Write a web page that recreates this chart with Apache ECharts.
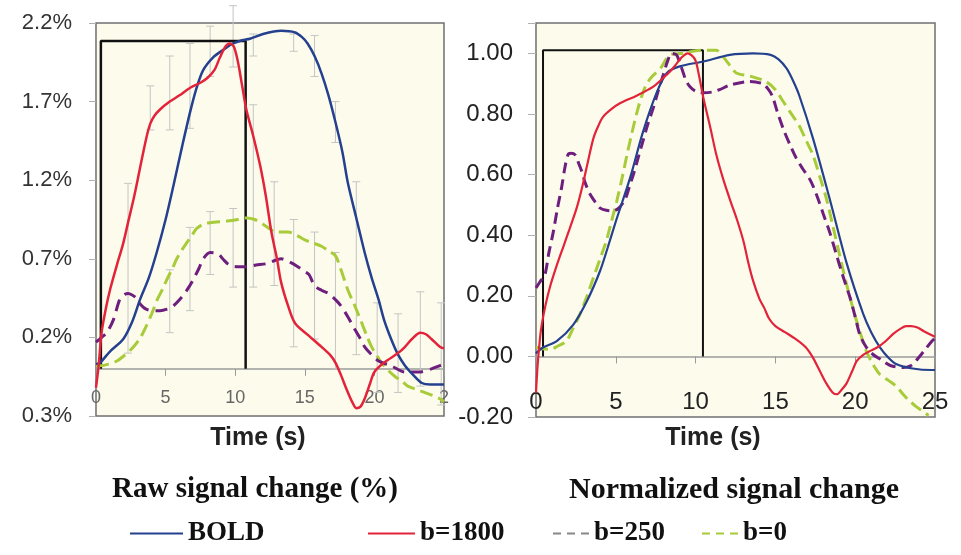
<!DOCTYPE html>
<html><head><meta charset="utf-8">
<script src="https://cdn.jsdelivr.net/npm/echarts@6/dist/echarts.min.js"></script>
<style>html,body{margin:0;padding:0;background:#fff}#c{width:961px;height:555px}</style>
</head><body><div id="c"></div><script>
// ---------- tick labels ----------
const leftXLabels = ['0','5','10','15','20','2'];
const rightXLabels = ['0','5','10','15','20','25'];
const leftYTicks = [-0.3, 0.2, 0.7, 1.2, 1.7, 2.2];
const leftYLabels = ['0.3%','0.2%','0.7%','1.2%','1.7%','2.2%'];
const rightYTicks = [-0.2, 0, 0.2, 0.4, 0.6, 0.8, 1.0];
const rightYLabels = ['-0.20','0.00','0.20','0.40','0.60','0.80','1.00'];
const legendNames = ['BOLD','b=1800','b=250','b=0'];

// ---------- left panel: raw signal change (%) ----------
const rawBoldT = [0,0.3,1.0,1.96,2.6,3.16,3.8,4.36,5.0,5.55,6.2,6.75,7.2,7.7,8.4,9.15,9.85,10.5,11.06,12.0,13.3,14.3,14.8,15.2,15.7,16.2,16.7,17.2,17.7,18.1,18.7,19.3,19.8,20.3,20.7,21.2,21.7,22.2,22.8,23.4,24.0,24.7,25];
const rawBoldV = [0.03,0.04,0.11,0.19,0.30,0.44,0.58,0.74,0.95,1.16,1.42,1.63,1.78,1.90,1.98,2.03,2.07,2.09,2.10,2.13,2.15,2.14,2.11,2.07,1.99,1.88,1.74,1.57,1.38,1.18,0.96,0.74,0.58,0.44,0.31,0.19,0.09,0.02,-0.04,-0.09,-0.10,-0.10,-0.10];

const raw1800T = [0,0.2,0.4,0.7,1.0,1.5,1.96,2.3,2.7,3.1,3.4,3.7,3.9,4.2,4.6,5.3,6.0,6.8,7.5,8.0,8.5,8.9,9.3,9.6,9.9,10.2,10.5,10.8,11.3,11.8,12.2,12.6,13.0,13.3,13.8,14.3,15.3,16.2,16.8,17.2,17.6,18.0,18.4,18.7,19.0,19.3,19.7,20.0,20.7,21.7,22.2,22.7,23.3,23.7,24.1,24.7,25];
const raw1800V = [-0.12,0.03,0.23,0.38,0.50,0.66,0.80,0.93,1.08,1.25,1.38,1.50,1.56,1.61,1.65,1.70,1.74,1.79,1.82,1.85,1.90,1.98,2.05,2.07,2.05,1.95,1.80,1.65,1.48,1.29,1.10,0.87,0.70,0.55,0.40,0.29,0.21,0.14,0.09,0.04,-0.04,-0.13,-0.21,-0.25,-0.24,-0.19,-0.09,-0.02,0.04,0.10,0.14,0.19,0.23,0.22,0.19,0.14,0.13];

const raw250T = [0,0.4,0.77,1.24,1.7,2.0,2.3,2.6,2.9,3.2,3.6,4.1,4.6,5.1,5.55,6.2,6.6,7.0,7.4,7.7,8.2,8.8,9.1,9.6,10.2,10.8,11.5,12.3,13.3,13.9,14.5,15.0,15.3,15.7,16.2,16.7,17.2,17.6,18.1,18.6,19.0,19.3,19.8,20.3,21.2,22.2,23.2,24.1,24.7,25];
const raw250V = [0.17,0.20,0.23,0.31,0.44,0.47,0.48,0.47,0.45,0.41,0.38,0.37,0.37,0.38,0.40,0.46,0.51,0.57,0.64,0.70,0.74,0.73,0.70,0.66,0.65,0.65,0.66,0.67,0.70,0.68,0.65,0.62,0.60,0.53,0.50,0.48,0.44,0.40,0.33,0.25,0.19,0.14,0.09,0.05,0.02,-0.02,-0.02,0.00,0.02,0.03];

const raw0T = [0,0.3,0.9,1.5,2.1,2.7,3.2,3.6,4.0,4.4,4.8,5.1,5.5,5.8,6.2,6.5,6.9,7.2,7.7,8.2,9.4,10.2,10.8,11.4,12.0,12.5,12.9,13.8,14.4,15.0,15.6,16.2,16.7,17.2,17.6,18.1,18.6,19.1,19.5,19.8,20.2,20.5,21.0,21.5,22.0,22.4,23.0,23.6,24.2,24.7,25];
const raw0V = [0.02,0.02,0.03,0.05,0.09,0.14,0.20,0.27,0.35,0.44,0.51,0.57,0.64,0.70,0.76,0.80,0.85,0.89,0.92,0.93,0.94,0.95,0.96,0.95,0.92,0.89,0.87,0.87,0.85,0.82,0.80,0.78,0.75,0.72,0.63,0.50,0.40,0.29,0.20,0.14,0.08,0.04,-0.01,-0.05,-0.08,-0.11,-0.13,-0.15,-0.17,-0.19,-0.21];

// error bars (time, low, high) in %
const errT    = [2.3, 3.9, 5.3, 5.3, 6.75, 6.75, 8.2, 8.2, 9.85, 9.85, 11.3, 11.3, 12.8, 14.2, 14.2, 15.7, 15.7, 17.2, 17.2, 18.7, 20.2, 21.7, 23.3, 24.8];
const errLow  = [0.10, 1.52, 1.52, 0.23, 1.53, 0.37, 1.86, 0.60, 1.92, 0.52, 1.99, 0.52, 0.53, 2.02, 0.14, 1.86, 0.19, 1.44, 0.00, 0.09, -0.15, -0.15, -0.11, -0.23];
const errHigh = [1.18, 1.80, 1.99, 0.63, 2.07, 0.90, 2.18, 1.00, 2.31, 1.02, 2.13, 1.68, 1.19, 2.13, 0.95, 2.12, 0.87, 1.70, 0.74, 1.19, 0.42, 0.35, 0.49, 0.42];

// stimulus box
const rawStimT = [0.35, 0.35, 10.75, 10.75];
const rawStimV = [0, 2.085, 2.085, 0];

// ---------- right panel: normalized signal change ----------
const normBoldT = [0,0.46,1.3,2.34,3.17,4.0,4.5,5.0,5.9,6.7,7.56,8.2,9.0,10.5,12.15,13.6,14.7,15.2,15.7,16.1,16.5,17.35,18.4,19.45,20.5,21.0,21.55,22.1,22.6,23.6,24.8,25];
const normBoldV = [0.01,0.03,0.05,0.105,0.18,0.28,0.36,0.445,0.59,0.74,0.87,0.935,0.957,0.973,0.995,1.0,0.995,0.98,0.95,0.91,0.86,0.72,0.52,0.31,0.14,0.08,0.03,-0.005,-0.026,-0.04,-0.045,-0.045];

const norm1800T = [0,0.1,0.25,0.36,0.6,0.88,1.3,1.7,2.1,2.55,2.9,3.2,3.6,3.9,4.2,4.7,5.26,6.3,7.35,8.0,8.4,8.8,9.1,9.5,9.96,10.2,10.5,10.9,11.3,11.7,12.2,12.6,13.0,13.3,13.6,14.0,14.3,14.6,15.0,15.6,16.3,16.9,17.35,17.8,18.2,18.6,18.85,19.15,19.45,19.8,20.1,20.5,20.9,21.4,21.9,22.4,22.8,23.2,23.5,23.9,24.3,24.9,25];
const norm1800V = [-0.12,-0.03,0.06,0.105,0.17,0.23,0.30,0.36,0.42,0.49,0.56,0.63,0.72,0.76,0.79,0.815,0.835,0.86,0.89,0.92,0.94,0.965,0.985,1.0,0.98,0.93,0.85,0.76,0.665,0.59,0.51,0.45,0.38,0.31,0.25,0.19,0.16,0.125,0.10,0.08,0.056,0.03,-0.004,-0.05,-0.09,-0.12,-0.125,-0.11,-0.09,-0.05,-0.015,0.005,0.017,0.03,0.05,0.075,0.09,0.10,0.10,0.095,0.083,0.067,0.065];

const norm250T = [0,0.3,0.56,0.8,1.08,1.35,1.6,1.8,2.0,2.2,2.45,2.65,2.87,3.1,3.4,3.7,4.0,4.4,4.85,5.2,5.6,5.85,6.1,6.4,6.7,7.0,7.35,7.65,7.98,8.25,8.5,8.8,9.0,9.2,9.4,9.65,10.0,10.5,11.0,11.5,12.15,13.4,14.2,14.5,14.8,15.1,15.5,15.9,16.3,16.7,17.2,17.6,18.0,18.4,18.8,19.2,19.7,20.0,20.3,20.7,21.1,21.6,22.2,23.0,23.5,23.8,24.3,24.8,25];
const norm250V = [0.226,0.25,0.27,0.34,0.41,0.49,0.556,0.62,0.665,0.67,0.665,0.64,0.61,0.57,0.534,0.51,0.49,0.482,0.48,0.49,0.52,0.56,0.60,0.655,0.71,0.765,0.82,0.875,0.93,0.975,1.0,0.995,0.97,0.94,0.91,0.89,0.875,0.87,0.872,0.88,0.895,0.907,0.90,0.885,0.86,0.81,0.75,0.70,0.655,0.62,0.58,0.53,0.47,0.41,0.34,0.27,0.19,0.13,0.07,0.03,0.007,-0.01,-0.03,-0.037,-0.03,-0.015,0.017,0.05,0.06];

const norm0T = [0,0.4,0.88,1.4,1.9,2.3,2.76,3.2,3.6,4.0,4.4,4.7,5.05,5.4,5.7,6.0,6.3,6.6,6.9,7.3,7.8,8.4,9.2,10.3,11.3,11.7,12.15,12.55,13.4,14.4,15.0,15.5,16.0,16.5,16.9,17.35,17.8,18.2,18.6,19.0,19.4,19.85,20.3,20.7,21.1,21.55,22.1,22.6,23.0,23.4,23.8,24.2,24.6];
const norm0V = [0.03,0.025,0.023,0.035,0.05,0.09,0.14,0.20,0.26,0.32,0.38,0.44,0.51,0.59,0.665,0.735,0.80,0.855,0.896,0.925,0.95,0.995,1.0,1.01,1.01,0.99,0.96,0.935,0.925,0.907,0.88,0.84,0.80,0.76,0.715,0.665,0.59,0.52,0.43,0.34,0.25,0.16,0.08,0.017,-0.025,-0.06,-0.08,-0.10,-0.125,-0.147,-0.165,-0.18,-0.195];

const normStimT = [0.44, 0.44, 10.46, 10.46];
const normStimV = [0, 1.01, 1.01, 0];

// ---------- styles ----------
const C = { bold:'#24408E', r1800:'#E2233A', r250:'#6E1F7E', r0:'#A8CB3A' };
const zip = (t, v) => t.map((x, i) => [x, v[i]]);
const lab = (ticks, labels) => v => { const i = ticks.findIndex(t => Math.abs(t - v) < 1e-6); return i < 0 ? '' : labels[i]; };

const chart = echarts.init(document.getElementById('c'));
const gridBg = '#FDFCEC';

function xLabelAxis(grid, labels, fs, color, margin) {
  return { type:'value', gridIndex:grid, min:0, max:25, interval:5, position:'bottom',
    axisLine:{show:false, onZero:false}, axisTick:{show:false}, splitLine:{show:false},
    axisLabel:{inside:true, margin:margin, fontSize:fs, color:color, fontFamily:'Liberation Sans',
      formatter: v => labels[Math.round(v/5)] } };
}
function xZeroAxis(grid, w) {
  return { type:'value', gridIndex:grid, min:0, max:25, interval:5, position:'bottom',
    axisLine:{show:true, onZero:true, lineStyle:{color:'#9a9a9a', width:w}},
    axisTick:{show:true, length:7, lineStyle:{color:'#9a9a9a'}},
    axisLabel:{show:false}, splitLine:{show:false} };
}
function lineSeries(name, data, color, xi, yi, width, dash) {
  return { name, type:'line', data, xAxisIndex:xi, yAxisIndex:yi, showSymbol:false, smooth:0.3,
    z:3, lineStyle:{color, width, type: dash || 'solid'}, itemStyle:{color}, emphasis:{disabled:true} };
}
function stimSeries(data, xi, yi, w) {
  return { name:'stim', type:'line', data, xAxisIndex:xi, yAxisIndex:yi, showSymbol:false, z:2,
    lineStyle:{color:'#111', width:w}, emphasis:{disabled:true}, silent:true };
}
const legendStyle = {fontFamily:'Liberation Serif', fontWeight:'bold', fontSize:27, color:'#111'};
const dashIcon = 'path://M0 0h8v2h-8z M14 0h8v2h-8z M28 0h8v2h-8z';
function legendItem(name, left, icon, color, w, h) {
  return { show:true, selectedMode:false, left, top:520, padding:0, itemWidth:w, itemHeight:h,
    textStyle:legendStyle, data:[{name, icon, itemStyle:{color}}] };
}

chart.setOption({
  backgroundColor:'#ffffff',
  animation:false,
  grid:[
    {left:96, top:23, width:348, height:393, show:true, backgroundColor:gridBg, borderColor:'#6f6f6f', borderWidth:1.5},
    {left:536, top:23, width:399, height:394, show:true, backgroundColor:gridBg, borderColor:'#6f6f6f', borderWidth:1.5}
  ],
  xAxis:[
    xLabelAxis(0, leftXLabels, 18, '#666', 9),
    xZeroAxis(0, 1.5),
    xLabelAxis(1, rightXLabels, 24, '#222', 3),
    xZeroAxis(1, 1.5)
  ],
  yAxis:[
    { type:'value', gridIndex:0, min:-0.3, max:2.2, interval:0.5,
      axisLine:{show:false}, splitLine:{show:false},
      axisTick:{show:true, length:7, lineStyle:{color:'#b0b0b0'}},
      axisLabel:{margin:24, fontSize:22, color:'#333', fontFamily:'Liberation Sans', formatter: lab(leftYTicks, leftYLabels)} },
    { type:'value', gridIndex:1, min:-0.2, max:1.1, interval:0.2,
      axisLine:{show:false}, splitLine:{show:false},
      axisTick:{show:true, length:8, lineStyle:{color:'#b0b0b0'}},
      axisLabel:{margin:23, fontSize:24, color:'#222', fontFamily:'Liberation Sans', formatter: lab(rightYTicks, rightYLabels)} }
  ],
  legend:[
    legendItem(legendNames[0], 130, 'rect', C.bold, 53, 2),
    legendItem(legendNames[1], 368, 'rect', C.r1800, 47, 2),
    legendItem(legendNames[2], 553, dashIcon, '#888888', 36, 2),
    legendItem(legendNames[3], 702, dashIcon, C.r0, 36, 2)
  ],
  graphic:[
    {type:'text', x:258, y:438, style:{text:'Time (s)', fontFamily:'Liberation Sans', fontWeight:'bold', fontSize:25, fill:'#222', align:'center', verticalAlign:'middle'}},
    {type:'text', x:713, y:438, style:{text:'Time (s)', fontFamily:'Liberation Sans', fontWeight:'bold', fontSize:25, fill:'#222', align:'center', verticalAlign:'middle'}},
    {type:'text', x:255, y:490, style:{text:'Raw signal change (%)', fontFamily:'Liberation Serif', fontWeight:'bold', fontSize:29, fill:'#111', align:'center', verticalAlign:'middle'}},
    {type:'text', x:734, y:490, style:{text:'Normalized signal change', fontFamily:'Liberation Serif', fontWeight:'bold', fontSize:30, fill:'#111', align:'center', verticalAlign:'middle'}}
  ],
  series:[
    { name:'err', type:'custom', xAxisIndex:0, yAxisIndex:0, clip:false, z:1, silent:true,
      data: errT.map((t, i) => [t, errLow[i], errHigh[i]]),
      renderItem:(params, api) => {
        const t = api.value(0), lo = api.value(1), hi = api.value(2);
        const a = api.coord([t, hi]), b = api.coord([t, lo]);
        const w = 4, st = {stroke:'#c4c4c4', lineWidth:1};
        return {type:'group', children:[
          {type:'line', shape:{x1:a[0], y1:a[1], x2:b[0], y2:b[1]}, style:st},
          {type:'line', shape:{x1:a[0]-w, y1:a[1], x2:a[0]+w, y2:a[1]}, style:st},
          {type:'line', shape:{x1:b[0]-w, y1:b[1], x2:b[0]+w, y2:b[1]}, style:st}
        ]};
      } },
    stimSeries(zip(rawStimT, rawStimV), 0, 0, 2.5),
    stimSeries(zip(normStimT, normStimV), 2, 1, 2),
    lineSeries('b=0', zip(raw0T, raw0V), C.r0, 0, 0, 3, [13, 6]),
    lineSeries('b=250', zip(raw250T, raw250V), C.r250, 0, 0, 3, [12, 7]),
    lineSeries('BOLD', zip(rawBoldT, rawBoldV), C.bold, 0, 0, 2.5),
    lineSeries('b=1800', zip(raw1800T, raw1800V), C.r1800, 0, 0, 2.5),
    lineSeries('b=0', zip(norm0T, norm0V), C.r0, 2, 1, 3, [12, 6]),
    lineSeries('b=250', zip(norm250T, norm250V), C.r250, 2, 1, 3, [11, 6]),
    lineSeries('BOLD', zip(normBoldT, normBoldV), C.bold, 2, 1, 2.2),
    lineSeries('b=1800', zip(norm1800T, norm1800V), C.r1800, 2, 1, 2.2)
  ]
});
</script></body></html>
